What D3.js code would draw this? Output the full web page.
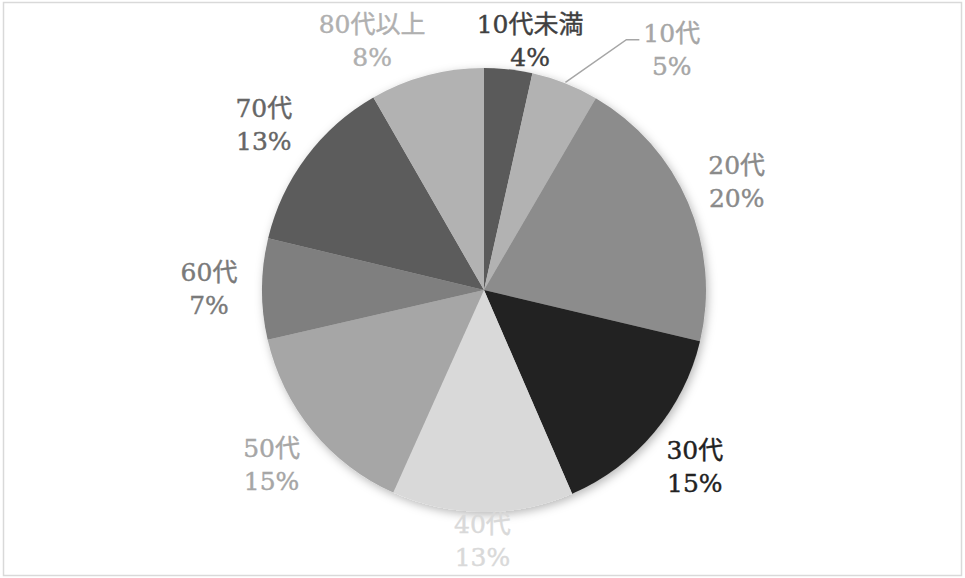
<!DOCTYPE html>
<html>
<head>
<meta charset="utf-8">
<script src="https://cdn.jsdelivr.net/npm/d3@7"></script>
<style>
  html, body { margin: 0; padding: 0; background: #fff; }
  svg { display: block; }
  .num { font-family: "DejaVu Serif", "Liberation Serif", serif; }
  .cjk { font-family: "Noto Sans CJK JP", sans-serif; }
</style>
</head>
<body>
<svg id="chart"></svg>
<script>
const WIDTH = 965;
const HEIGHT = 578;
const CENTER = { x: 484, y: 290 };
const RADIUS = 222;

// age groups, clockwise from 12 o'clock
const categories = ["10代未満", "10代", "20代", "30代", "40代", "50代", "60代", "70代", "80代以上"];
// share in percent
const shares = [3.5, 4.9, 20.3, 14.8, 13.2, 14.7, 7.35, 12.95, 8.3];
const sliceColors = ["#5a5a5a", "#b2b2b2", "#8c8c8c", "#222222", "#d9d9d9", "#a6a6a6", "#7f7f7f", "#5c5c5c", "#b2b2b2"];
const labelColors = ["#404040", "#a6a6a6", "#8a8a8a", "#222222", "#d9d9d9", "#a6a6a6", "#7a7a7a", "#666666", "#b0b0b0"];

const data = categories.map((name, i) => ({
  name,
  value: shares[i],
  color: sliceColors[i],
  labelColor: labelColors[i]
}));

const svg = d3.select("#chart").attr("width", WIDTH).attr("height", HEIGHT);

// chart area border
svg.append("rect")
  .attr("x", 3.5)
  .attr("y", 2.5)
  .attr("width", WIDTH - 7)
  .attr("height", HEIGHT - 5)
  .attr("fill", "#fff")
  .attr("stroke", "#d9d9d9")
  .attr("stroke-width", 1.5);

const defs = svg.append("defs");
const shadow = defs.append("filter")
  .attr("id", "pie-shadow")
  .attr("x", "-20%").attr("y", "-20%")
  .attr("width", "140%").attr("height", "140%");
shadow.append("feDropShadow")
  .attr("dx", 2)
  .attr("dy", 3)
  .attr("stdDeviation", 5)
  .attr("flood-color", "#000")
  .attr("flood-opacity", 0.28);

const pie = d3.pie().sort(null).value(d => d.value);
const arc = d3.arc().innerRadius(0).outerRadius(RADIUS);
const arcs = pie(data);

const g = svg.append("g").attr("transform", `translate(${CENTER.x},${CENTER.y})`);

g.append("g")
  .attr("filter", "url(#pie-shadow)")
  .selectAll("path")
  .data(arcs)
  .join("path")
  .attr("d", arc)
  .attr("fill", d => d.data.color);

// labels sit outside the pie; a few are moved off their slice like the original
const LABEL_R = 275;
const nudges = {
  "10代未満": { angle: 10.5, r: 253 },
  "10代": { angle: 38, r: 305, leader: true },
  "40代": { r: 251 },
  "80代以上": { angle: 335.8, r: 273 }
};

const labelPos = d => {
  const n = nudges[d.data.name] || {};
  const mid = (d.startAngle + d.endAngle) / 2;
  const a = n.angle != null ? n.angle * Math.PI / 180 : mid;
  const r = n.r || LABEL_R;
  return [Math.sin(a) * r, -Math.cos(a) * r];
};

// digits in a serif face, kanji in the CJK face
const writeLine = (text, str, y) => {
  const line = text.append("tspan").attr("x", 0).attr("y", y);
  str.split(/([0-9%]+)/).filter(s => s).forEach(part => {
    line.append("tspan")
      .attr("class", /^[0-9%]+$/.test(part) ? "num" : "cjk")
      .text(part);
  });
};

const labels = g.append("g")
  .attr("font-size", 25)
  .attr("text-anchor", "middle")
  .selectAll("text")
  .data(arcs)
  .join("text")
  .attr("fill", d => d.data.labelColor)
  .attr("stroke", d => d.data.labelColor)
  .attr("stroke-width", 0.4)
  .attr("transform", d => `translate(${labelPos(d)})`)
  .each(function(d) {
    const t = d3.select(this);
    writeLine(t, d.data.name, -8);
    writeLine(t, Math.round(d.data.value) + "%", 25);
  });

// leader lines for labels pushed away from their slice
labels.each(function(d) {
  const n = nudges[d.data.name];
  if (!n || !n.leader) return;
  const box = this.getBBox();
  const [lx, ly] = labelPos(d);
  const mid = (d.startAngle + d.endAngle) / 2;
  const start = [Math.sin(mid) * (RADIUS + 1), -Math.cos(mid) * (RADIUS + 1)];
  const left = lx + box.x;
  g.insert("path", "g + g")
    .attr("d", d3.line()([start, [left - 17, ly - 10], [left - 4, ly - 10]]))
    .attr("fill", "none")
    .attr("stroke", "#a6a6a6")
    .attr("stroke-width", 1.5);
});
</script>
</body>
</html>
